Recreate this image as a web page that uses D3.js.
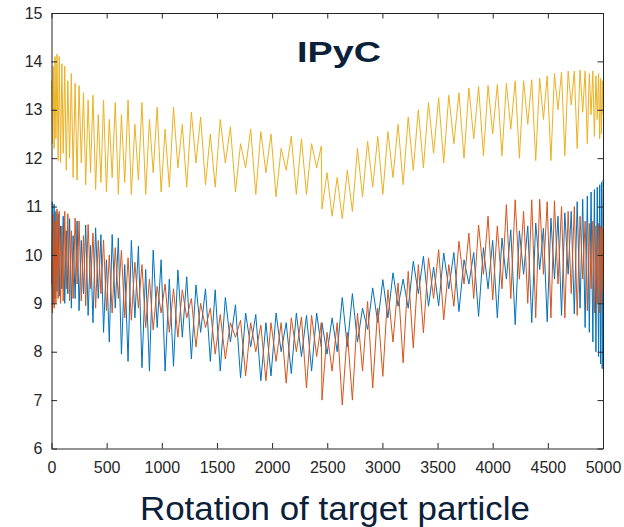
<!DOCTYPE html>
<html>
<head>
<meta charset="utf-8">
<script src="https://cdn.jsdelivr.net/npm/d3@7"></script>
<style>
  body { margin: 0; background: #fff; }
  svg { display: block; font-family: "Liberation Sans", Arial, sans-serif; }
</style>
</head>
<body>
<div id="chart"></div>
<script>
// rotation samples (shared by all three curves)
let rotation = [
    0, 8, 16, 24, 32, 40, 50, 60, 70, 82,
    94, 106, 120, 134, 148, 164, 180, 196, 214, 232,
    250, 270, 290, 310, 332, 354, 376, 400, 424, 448,
    472, 498, 524, 550, 578, 606, 634, 664, 694, 724,
    756, 788, 820, 854, 888, 922, 958, 994, 1030, 1068,
    1106, 1146, 1186, 1226, 1268, 1310, 1352, 1396, 1440, 1484,
    1530, 1576, 1622, 1668, 1714, 1760, 1806, 1852, 1898, 1944,
    1990, 2036, 2082, 2128, 2174, 2220, 2266, 2312, 2358, 2404,
    2446, 2452, 2498, 2544, 2590, 2636, 2682, 2728, 2774, 2820,
    2866, 2912, 2958, 3004, 3050, 3096, 3142, 3188, 3234, 3280,
    3326, 3372, 3418, 3464, 3510, 3556, 3602, 3648, 3694, 3740,
    3784, 3828, 3872, 3916, 3958, 4000, 4042, 4084, 4124, 4164,
    4204, 4242, 4280, 4318, 4354, 4390, 4426, 4460, 4494, 4528,
    4560, 4592, 4624, 4654, 4684, 4712, 4740, 4766, 4792, 4816,
    4838, 4858, 4876, 4892, 4908, 4922, 4936, 4948, 4960, 4970,
    4978, 4986, 4993, 5000
];

let blueVals = [
    9.4, 11.1, 9.0, 11.05, 9.1, 10.9, 9.25, 10.85, 9.15, 10.6,
    9.3, 10.8, 9.0, 10.5, 9.2, 10.75, 8.9, 10.4, 9.1, 10.7,
    8.85, 10.3, 9.2, 10.62, 8.75, 10.2, 8.6, 10.56, 9.1, 10.42,
    8.4, 9.9, 8.2, 10.42, 8.9, 10.35, 7.95, 9.8, 7.8, 10.3,
    8.7, 10.18, 7.67, 9.7, 7.6, 10.1, 8.5, 9.9, 7.6, 9.5,
    7.7, 9.69, 8.3, 9.55, 7.85, 9.38, 8.4, 9.3, 7.8, 9.28,
    7.6, 9.12, 8.2, 8.97, 7.46, 8.8, 8.1, 8.77, 7.4, 8.6,
    7.5, 8.8, 8.0, 8.6, 7.55, 8.8, 7.9, 8.75, 7.6, 8.8,
    8.1, 8.6, 7.95, 8.7, 8.0, 9.12, 8.1, 9.2, 8.2, 8.9,
    8.46, 9.32, 8.6, 9.49, 8.7, 9.63, 8.94, 9.5, 8.9, 9.87,
    9.2, 9.97, 8.94, 9.75, 8.95, 10.04, 9.3, 10.05, 8.83, 9.9,
    9.4, 10.05, 8.73, 10.15, 9.3, 10.3, 8.7, 10.35, 9.5, 10.52,
    8.56, 10.5, 9.6, 10.6, 8.6, 10.66, 9.7, 10.55, 8.62, 10.76,
    9.5, 10.8, 8.75, 10.87, 9.6, 10.9, 8.78, 11.1, 8.9, 11.15,
    8.5, 11.22, 8.4, 11.3, 8.2, 11.35, 8.0, 11.4, 7.9, 11.45,
    7.75, 11.5, 7.65, 11.55
];

let orangeVals = [
    9.9, 8.8, 10.85, 8.9, 10.7, 9.0, 10.95, 9.1, 10.9, 9.0,
    10.6, 9.05, 10.9, 9.3, 10.85, 9.05, 10.5, 9.1, 10.76, 9.4,
    10.7, 9.05, 10.4, 8.95, 10.63, 9.3, 10.45, 8.9, 10.3, 9.2,
    10.31, 8.85, 10.0, 8.8, 10.15, 9.1, 10.1, 8.7, 9.94, 8.65,
    9.85, 8.9, 9.8, 8.5, 9.5, 8.45, 9.35, 8.8, 9.4, 8.4,
    9.3, 8.3, 9.28, 8.7, 9.1, 8.1, 9.0, 8.5, 8.9, 7.95,
    8.77, 7.85, 8.6, 8.3, 8.65, 7.5, 8.6, 8.0, 8.55, 7.4,
    8.6, 7.8, 8.6, 7.35, 8.7, 8.0, 8.72, 7.25, 8.75, 7.9,
    8.6, 7.0, 8.4, 7.6, 8.6, 6.9, 8.4, 7.0, 8.8, 7.6,
    9.04, 7.25, 8.9, 7.49, 9.28, 8.2, 9.42, 7.77, 9.66, 8.08,
    9.8, 8.39, 9.94, 9.1, 10.11, 8.66, 9.8, 8.94, 10.28, 9.4,
    10.45, 9.1, 10.62, 9.6, 10.8, 9.07, 10.6, 9.3, 11.04, 9.1,
    11.14, 9.5, 10.9, 9.0, 11.14, 8.7, 11.15, 9.6, 11.1, 8.7,
    11.12, 9.4, 11.0, 8.7, 10.9, 9.2, 11.0, 8.75, 10.8, 9.5,
    10.7, 8.85, 10.65, 9.3, 10.7, 8.8, 10.6, 9.0, 10.65, 8.8,
    10.6, 9.0, 10.55, 9.2
];

let yellowVals = [
    13.6, 12.3, 13.9, 12.2, 14.1, 12.4, 14.15, 11.95, 14.1, 11.9,
    13.95, 12.1, 13.9, 11.75, 13.6, 12.0, 13.75, 11.6, 13.55, 11.55,
    13.5, 11.9, 13.35, 11.45, 13.2, 11.7, 13.3, 11.35, 12.9, 11.5,
    13.2, 11.3, 12.8, 11.6, 13.15, 11.25, 12.9, 11.5, 13.2, 11.25,
    12.7, 11.55, 13.15, 11.25, 12.8, 11.7, 13.05, 11.3, 12.6, 11.4,
    13.05, 11.8, 12.7, 11.4, 12.95, 11.9, 12.85, 11.45, 12.5, 11.4,
    12.8, 11.9, 12.65, 11.3, 12.3, 11.8, 12.6, 11.25, 12.55, 11.7,
    12.5, 11.2, 12.2, 11.75, 12.45, 11.25, 12.4, 11.25, 12.3, 11.8,
    12.25, 10.95, 11.7, 10.8, 11.6, 10.75, 11.75, 10.9, 12.2, 11.2,
    12.35, 11.4, 12.45, 11.25, 12.55, 11.6, 12.7, 11.45, 12.85, 11.75,
    13.0, 11.8, 13.15, 12.1, 13.25, 11.9, 13.3, 12.3, 13.35, 12.0,
    13.45, 12.4, 13.48, 12.05, 13.5, 12.5, 13.52, 12.05, 13.55, 12.6,
    13.6, 12.0, 13.6, 12.7, 13.62, 11.95, 13.65, 12.8, 13.7, 11.95,
    13.75, 13.0, 13.78, 12.05, 13.8, 13.1, 13.8, 12.2, 13.82, 12.95,
    13.8, 12.3, 13.75, 12.9, 13.8, 12.45, 13.7, 12.8, 13.75, 12.4,
    13.65, 12.5, 13.6, 12.9
];

let xTicks = [0, 500, 1000, 1500, 2000, 2500, 3000, 3500, 4000, 4500, 5000];
let yTicks = [6, 7, 8, 9, 10, 11, 12, 13, 14, 15];

let series = [
    {name: 'blue', color: '#0072BD', values: blueVals},
    {name: 'orange', color: '#D95319', values: orangeVals},
    {name: 'yellow', color: '#EDB120', values: yellowVals}
];

let width = 624, height = 527;
let plotLeft = 51.5, plotRight = 603, plotTop = 13, plotBottom = 448.5;
let axisColor = '#262626';

let svg = d3.select('#chart').append('svg')
    .attr('width', width)
    .attr('height', height);

let x = d3.scaleLinear().domain([0, 5000]).range([plotLeft, plotRight]);
let y = d3.scaleLinear().domain([6, 15]).range([plotBottom, plotTop]);

// curves
let line = d3.line()
    .x((d, i) => x(rotation[i]))
    .y(d => y(d));

series.forEach(s => {
    let vals = s.values.slice(0, rotation.length);
    svg.append('path')
        .datum(vals)
        .attr('fill', 'none')
        .attr('stroke', s.color)
        .attr('stroke-width', 1)
        .attr('stroke-linejoin', 'round')
        .attr('d', line);
});

// axes, ticks pointing inward like matlab
function styleAxis(g) {
    g.selectAll('path, line').attr('stroke', axisColor);
    g.selectAll('text')
        .attr('fill', axisColor)
        .style('font-size', '16px')
        .style('font-family', '"Liberation Sans", Arial, sans-serif');
}

let fmt = d3.format('d');

let xAxis = svg.append('g')
    .attr('transform', 'translate(0,' + plotBottom + ')')
    .call(d3.axisBottom(x).tickValues(xTicks).tickFormat(fmt)
        .tickSizeInner(-5.5).tickSizeOuter(0).tickPadding(13));
styleAxis(xAxis);

let xAxisTop = svg.append('g')
    .attr('transform', 'translate(0,' + plotTop + ')')
    .call(d3.axisTop(x).tickValues(xTicks).tickSizeInner(-5.5).tickSizeOuter(0).tickFormat(''));
styleAxis(xAxisTop);

let yAxis = svg.append('g')
    .attr('transform', 'translate(' + plotLeft + ',0)')
    .call(d3.axisLeft(y).tickValues(yTicks).tickFormat(fmt)
        .tickSizeInner(-5.5).tickSizeOuter(0).tickPadding(9));
styleAxis(yAxis);

let yAxisRight = svg.append('g')
    .attr('transform', 'translate(' + plotRight + ',0)')
    .call(d3.axisRight(y).tickValues(yTicks).tickSizeInner(-5.5).tickSizeOuter(0).tickFormat(''));
styleAxis(yAxisRight);

// title inside the plot
svg.append('text')
    .attr('x', 339)
    .attr('y', 62)
    .attr('text-anchor', 'middle')
    .attr('fill', '#0b2039')
    .attr('textLength', 84)
    .attr('lengthAdjust', 'spacingAndGlyphs')
    .style('font-size', '29px')
    .style('font-weight', 'bold')
    .text('IPyC');

svg.append('text')
    .attr('x', 335)
    .attr('y', 520)
    .attr('text-anchor', 'middle')
    .attr('fill', '#0b2039')
    .attr('textLength', 390)
    .attr('lengthAdjust', 'spacingAndGlyphs')
    .style('font-size', '32.5px')
    .text('Rotation of target particle');
</script>
</body>
</html>
